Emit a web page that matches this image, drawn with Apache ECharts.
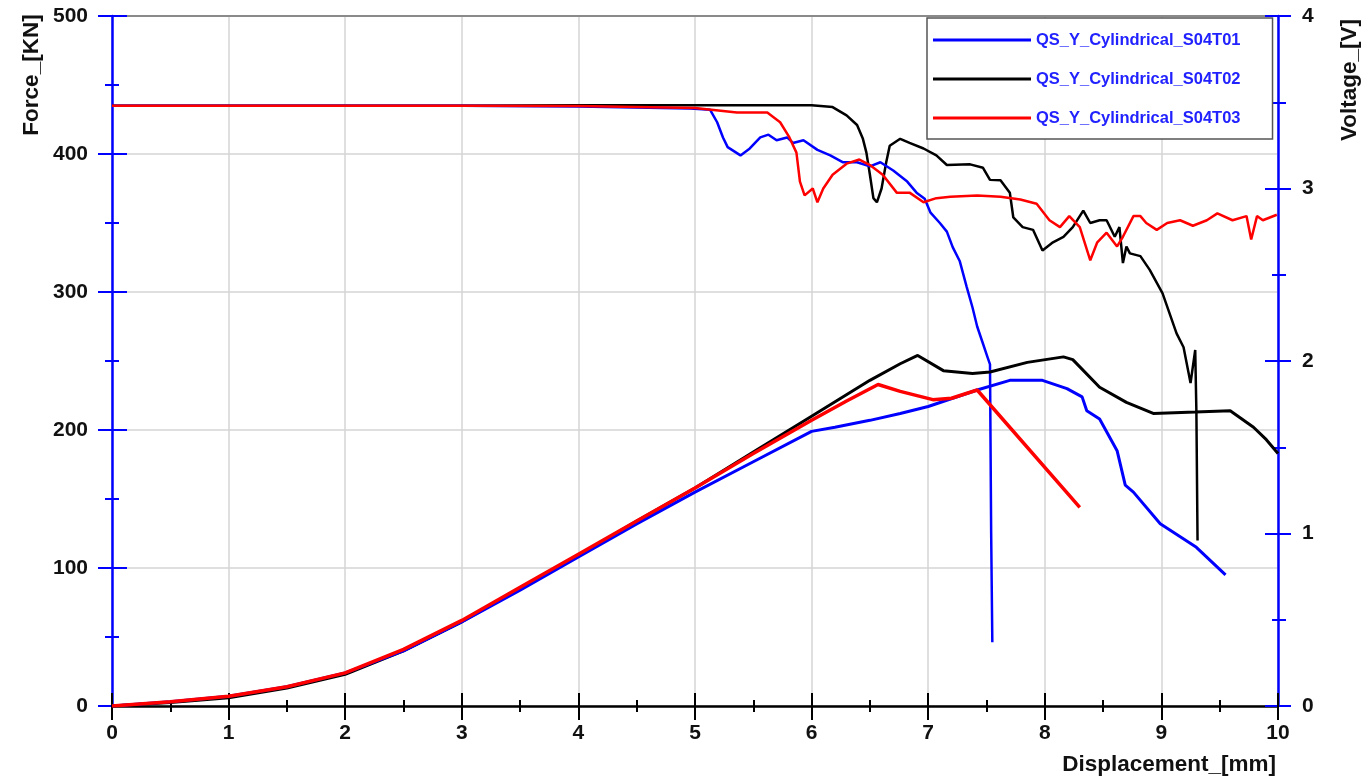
<!DOCTYPE html>
<html>
<head>
<meta charset="utf-8">
<script src="https://cdn.jsdelivr.net/npm/echarts@6/dist/echarts.min.js"></script>
<style>html,body{margin:0;padding:0;background:#fff}#c{width:1371px;height:779px}</style>
</head>
<body>
<div id="c"></div>
<script>
const seriesNames = ['QS_Y_Cylindrical_S04T01', 'QS_Y_Cylindrical_S04T02', 'QS_Y_Cylindrical_S04T03'];
const xTicks = [0,1,2,3,4,5,6,7,8,9,10];
const forceTicks = [0,100,200,300,400,500];
const voltTicks = [0,1,2,3,4];

// Force [KN] vs displacement [mm]
const forceT01 = [[0,0],[0.5,3],[1,7],[1.5,14],[2,24],[2.5,40],[3,61],[3.5,84],[4,108],[4.5,132],[5,155],[5.5,177],[6,199],[6.2,202],[6.5,207],[6.76,212],[7,217],[7.42,229],[7.7,236],[7.98,236],[8.19,230],[8.32,224],[8.36,214],[8.47,208],[8.62,185],[8.69,160],[8.76,155],[8.99,132],[9.3,115],[9.55,95]];
const forceT02 = [[0,0],[0.5,2.5],[1,6],[1.5,13],[2,23],[2.5,40],[3,61],[3.5,85],[4,109],[4.5,134],[5,158],[5.5,184],[6,210],[6.5,236],[6.76,248],[6.91,254],[7.13,243],[7.38,241],[7.53,242],[7.85,249],[8.16,253],[8.24,251],[8.47,231],[8.70,220],[8.93,212],[9.29,213],[9.59,214],[9.79,202],[9.90,193],[10,183]];
const forceT03 = [[0,0],[0.5,3],[1,7],[1.5,14],[2,24],[2.5,41],[3,62],[3.5,86],[4,110],[4.5,134],[5,158],[5.5,183],[6,207],[6.3,221],[6.57,233],[6.76,228],[7.04,222],[7.2,223],[7.42,229],[8.3,144]];

// Voltage [V] vs displacement [mm]
const voltT01 = [[0,3.48],[1,3.48],[2,3.48],[3,3.48],[4,3.475],[4.96,3.464],[5.13,3.456],[5.19,3.384],[5.24,3.296],[5.28,3.24],[5.39,3.192],[5.47,3.232],[5.56,3.296],[5.63,3.312],[5.70,3.28],[5.79,3.296],[5.84,3.264],[5.93,3.28],[6.05,3.224],[6.16,3.192],[6.27,3.152],[6.39,3.152],[6.50,3.128],[6.59,3.152],[6.70,3.104],[6.82,3.04],[6.90,2.976],[6.97,2.94],[7.02,2.86],[7.1,2.80],[7.16,2.75],[7.21,2.66],[7.27,2.58],[7.33,2.43],[7.38,2.31],[7.42,2.20],[7.47,2.10],[7.51,2.02],[7.53,1.98],[7.54,1.0],[7.55,0.37]];
const voltT02 = [[0,3.48],[1,3.48],[2,3.48],[3,3.48],[4,3.482],[5,3.482],[6,3.482],[6.18,3.472],[6.30,3.424],[6.39,3.368],[6.44,3.288],[6.47,3.208],[6.50,3.08],[6.53,2.944],[6.56,2.92],[6.60,3.0],[6.64,3.152],[6.67,3.248],[6.76,3.288],[6.84,3.264],[6.96,3.232],[7.07,3.192],[7.16,3.136],[7.36,3.14],[7.47,3.12],[7.53,3.05],[7.62,3.048],[7.70,2.976],[7.73,2.832],[7.81,2.776],[7.90,2.76],[7.98,2.64],[8.07,2.688],[8.16,2.72],[8.24,2.776],[8.33,2.872],[8.39,2.80],[8.47,2.816],[8.53,2.816],[8.60,2.72],[8.64,2.776],[8.67,2.568],[8.70,2.664],[8.73,2.624],[8.82,2.608],[8.90,2.528],[9.01,2.392],[9.13,2.16],[9.19,2.08],[9.25,1.872],[9.29,2.064],[9.30,1.712],[9.31,0.96]];
const voltT03 = [[0,3.48],[1,3.48],[2,3.48],[3,3.48],[4,3.478],[5,3.466],[5.36,3.44],[5.62,3.44],[5.73,3.384],[5.81,3.296],[5.87,3.208],[5.90,3.04],[5.94,2.96],[6.01,3.0],[6.05,2.92],[6.10,3.0],[6.18,3.08],[6.30,3.144],[6.41,3.168],[6.50,3.136],[6.61,3.08],[6.73,2.976],[6.84,2.976],[6.96,2.92],[7.07,2.944],[7.19,2.952],[7.42,2.96],[7.62,2.952],[7.79,2.936],[7.93,2.912],[8.04,2.816],[8.13,2.776],[8.21,2.84],[8.30,2.776],[8.39,2.584],[8.45,2.688],[8.53,2.744],[8.62,2.664],[8.67,2.72],[8.76,2.84],[8.82,2.84],[8.87,2.80],[8.96,2.76],[9.05,2.80],[9.16,2.816],[9.27,2.784],[9.39,2.816],[9.48,2.856],[9.61,2.816],[9.73,2.84],[9.77,2.704],[9.82,2.84],[9.87,2.816],[9.99,2.848]];

const colors = ['#0000ff', '#000000', '#ff0000'];
const FONT = 'Liberation Sans, Arial, sans-serif';
const labelStyle = {fontFamily: FONT, fontWeight: 'bold', fontSize: 21, color: '#111'};

function xAx(opts) {
  return Object.assign({
    type: 'value', min: xTicks[0], max: xTicks[xTicks.length-1], interval: 1,
    position: 'bottom',
    axisLine: {show: false, onZero: false},
    axisTick: {show: false}, axisLabel: {show: false}, splitLine: {show: false}
  }, opts);
}
function yAx(opts) {
  return Object.assign({
    type: 'value',
    axisLine: {show: false, onZero: false},
    axisTick: {show: false}, axisLabel: {show: false}, splitLine: {show: false}
  }, opts);
}

const chart = echarts.init(document.getElementById('c'));
chart.setOption({
  animation: false,
  backgroundColor: '#fff',
  grid: {left: 112, right: 93, top: 16, bottom: 73, containLabel: false},
  xAxis: [
    xAx({
      axisLine: {show: true, onZero: false, lineStyle: {color: '#000', width: 2.5}},
      axisTick: {show: true, inside: false, length: 14, lineStyle: {color: '#000', width: 2}},
      minorTick: {show: true, splitNumber: 2, length: 6, lineStyle: {color: '#000', width: 2}},
      axisLabel: Object.assign({show: true, margin: 17}, labelStyle),
      splitLine: {show: true, lineStyle: {color: '#d4d4d4', width: 1.5}}
    }),
    xAx({
      axisTick: {show: true, inside: true, length: 13, lineStyle: {color: '#000', width: 2}},
      minorTick: {show: true, splitNumber: 2, length: 6, lineStyle: {color: '#000', width: 2}}
    }),
    xAx({position: 'top', axisLine: {show: true, onZero: false, lineStyle: {color: '#8a8a8a', width: 2}}})
  ],
  yAxis: [
    yAx({
      position: 'left', min: forceTicks[0], max: forceTicks[forceTicks.length-1], interval: 100,
      axisLine: {show: true, onZero: false, lineStyle: {color: '#0000ff', width: 2.5}},
      axisTick: {show: true, inside: false, length: 14, lineStyle: {color: '#0000ff', width: 2}},
      minorTick: {show: true, splitNumber: 2, length: 7, lineStyle: {color: '#0000ff', width: 2}},
      axisLabel: Object.assign({show: true, margin: 24}, labelStyle),
      splitLine: {show: true, lineStyle: {color: '#d4d4d4', width: 1.5}}
    }),
    yAx({
      position: 'left', min: forceTicks[0], max: forceTicks[forceTicks.length-1], interval: 100,
      axisTick: {show: true, inside: true, length: 15, lineStyle: {color: '#0000ff', width: 2}},
      minorTick: {show: true, splitNumber: 2, length: 7, lineStyle: {color: '#0000ff', width: 2}}
    }),
    yAx({
      position: 'right', min: voltTicks[0], max: voltTicks[voltTicks.length-1], interval: 1,
      axisLine: {show: true, onZero: false, lineStyle: {color: '#0000ff', width: 2.5}},
      axisTick: {show: true, inside: false, length: 13, lineStyle: {color: '#0000ff', width: 2}},
      minorTick: {show: true, splitNumber: 2, length: 8, lineStyle: {color: '#0000ff', width: 2}},
      axisLabel: Object.assign({show: true, margin: 24}, labelStyle)
    }),
    yAx({
      position: 'right', min: voltTicks[0], max: voltTicks[voltTicks.length-1], interval: 1,
      axisTick: {show: true, inside: true, length: 13, lineStyle: {color: '#0000ff', width: 2}},
      minorTick: {show: true, splitNumber: 2, length: 6, lineStyle: {color: '#0000ff', width: 2}}
    })
  ],
  legend: {
    orient: 'vertical', left: 927, top: 18,
    data: seriesNames,
    icon: 'rect', itemWidth: 98, itemHeight: 3, itemGap: 19,
    padding: [12, 32, 11, 6],
    backgroundColor: '#fff', borderColor: '#555', borderWidth: 1.5,
    textStyle: {fontFamily: FONT, fontWeight: 'bold', fontSize: 16.5, color: '#2222ff', lineHeight: 20},
    selectedMode: false
  },
  graphic: [
    {type: 'text', x: 32, y: 75, rotation: Math.PI/2, style: {text: 'Force_[KN]', font: 'bold 22.5px ' + FONT, fill: '#111', align: 'center', verticalAlign: 'middle'}},
    {type: 'text', x: 1350, y: 80, rotation: Math.PI/2, style: {text: 'Voltage_[V]', font: 'bold 22.5px ' + FONT, fill: '#111', align: 'center', verticalAlign: 'middle'}},
    {type: 'text', x: 1276, y: 765, style: {text: 'Displacement_[mm]', font: 'bold 22.5px ' + FONT, fill: '#111', align: 'right', verticalAlign: 'middle'}}
  ],
  series: [
    {name: seriesNames[1], type: 'line', xAxisIndex: 0, yAxisIndex: 2, data: voltT02, showSymbol: false, symbol: 'none', color: colors[1], lineStyle: {width: 2.5, color: colors[1]}, z: 3},
    {name: seriesNames[0], type: 'line', xAxisIndex: 0, yAxisIndex: 2, data: voltT01, showSymbol: false, symbol: 'none', color: colors[0], lineStyle: {width: 2.5, color: colors[0]}, z: 3},
    {name: seriesNames[2], type: 'line', xAxisIndex: 0, yAxisIndex: 2, data: voltT03, showSymbol: false, symbol: 'none', color: colors[2], lineStyle: {width: 2.5, color: colors[2]}, z: 3},
    {name: seriesNames[1], type: 'line', xAxisIndex: 0, yAxisIndex: 0, data: forceT02, showSymbol: false, symbol: 'none', color: colors[1], lineStyle: {width: 3, color: colors[1]}, z: 3},
    {name: seriesNames[0], type: 'line', xAxisIndex: 0, yAxisIndex: 0, data: forceT01, showSymbol: false, symbol: 'none', color: colors[0], lineStyle: {width: 3, color: colors[0]}, z: 3},
    {name: seriesNames[2], type: 'line', xAxisIndex: 0, yAxisIndex: 0, data: forceT03, showSymbol: false, symbol: 'none', color: colors[2], lineStyle: {width: 3.5, color: colors[2]}, z: 3}
  ]
});
</script>
</body>
</html>
